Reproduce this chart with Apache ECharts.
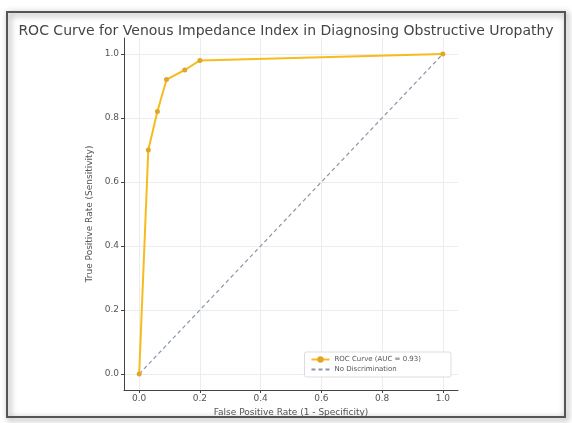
<!DOCTYPE html>
<html>
<head>
<meta charset="utf-8">
<script src="https://cdn.jsdelivr.net/npm/echarts@6/dist/echarts.min.js"></script>
<style>
html,body{margin:0;padding:0;background:#fff;}
#c{width:572px;height:423px;}
</style>
</head>
<body>
<div id="c"></div>
<script>
const titleText = 'ROC Curve for Venous Impedance Index in Diagnosing Obstructive Uropathy';
const fpr = [0.0, 0.03, 0.06, 0.09, 0.15, 0.20, 1.0];
const tpr = [0.0, 0.70, 0.82, 0.92, 0.95, 0.98, 1.0];
const diagX = [0, 1];
const diagY = [0, 1];
const tickVals = [0, 0.2, 0.4, 0.6, 0.8, 1.0];
const rocName = 'ROC Curve (AUC = 0.93)';
const diagName = 'No Discrimination';
const xLabel = 'False Positive Rate (1 - Specificity)';
const yLabel = 'True Positive Rate (Sensitivity)';

const chart = echarts.init(document.getElementById('c'));
const fontFam = 'DejaVu Sans';
chart.setOption({
  animation: false,
  backgroundColor: '#fff',
  title: {
    text: titleText, left: 'center', top: 19,
    textStyle: {fontFamily: fontFam, fontSize: 14, fontWeight: 'normal', color: '#444'}
  },
  graphic: [{
    type: 'rect', shape: {x: 7, y: 12, width: 558, height: 405},
    style: {fill: 'none', stroke: '#555', lineWidth: 2, shadowBlur: 6, shadowColor: 'rgba(0,0,0,0.5)', shadowOffsetX: 2, shadowOffsetY: 2},
    z: 100, silent: true
  }],
  grid: {left: 124, right: 114, top: 38, bottom: 33},
  legend: {
    orient: 'vertical', right: 121, bottom: 46,
    backgroundColor: '#fff', borderColor: '#ddd', borderWidth: 1, borderRadius: 2,
    padding: [4, 30, 4, 6], itemGap: 3, itemWidth: 18, itemHeight: 8,
    textStyle: {fontFamily: fontFam, fontSize: 7, color: '#555'},
    data: [rocName, {name: diagName, itemStyle: {opacity: 0}}]
  },
  xAxis: {
    type: 'value', min: -0.05, max: 1.05,
    name: xLabel, nameLocation: 'middle', nameGap: 17,
    nameTextStyle: {fontFamily: fontFam, fontSize: 9, color: '#555'},
    axisLine: {show: true, onZero: false, lineStyle: {color: '#444', width: 1}},
    axisTick: {show: true, length: 3, lineStyle: {color: '#444'}, customValues: tickVals},
    axisLabel: {fontFamily: fontFam, fontSize: 9, color: '#555', margin: 4, customValues: tickVals,
      formatter: v => v.toFixed(1)},
    splitLine: {show: true, lineStyle: {color: '#ececec', width: 1}}
  },
  yAxis: {
    type: 'value', min: -0.05, max: 1.05,
    name: yLabel, nameLocation: 'middle', nameGap: 24,
    nameTextStyle: {fontFamily: fontFam, fontSize: 9, color: '#555'},
    axisLine: {show: true, onZero: false, lineStyle: {color: '#444', width: 1}},
    axisTick: {show: true, length: 3, lineStyle: {color: '#444'}, customValues: tickVals},
    axisLabel: {fontFamily: fontFam, fontSize: 9, color: '#555', margin: 5, customValues: tickVals,
      formatter: v => v.toFixed(1)},
    splitLine: {show: true, lineStyle: {color: '#ececec', width: 1}}
  },
  series: [
    {
      name: rocName, type: 'line', data: fpr.map((x, i) => [x, tpr[i]]),
      symbol: 'circle', symbolSize: 5,
      lineStyle: {color: '#f6bb1e', width: 2},
      itemStyle: {color: '#e3a526'},
      z: 3
    },
    {
      name: diagName, type: 'line', data: diagX.map((x, i) => [x, diagY[i]]),
      symbol: 'none',
      lineStyle: {color: '#8a96a8', width: 1.2, type: [4, 3]},
      itemStyle: {color: '#8a96a8'},
      z: 2
    }
  ]
});
</script>
</body>
</html>
